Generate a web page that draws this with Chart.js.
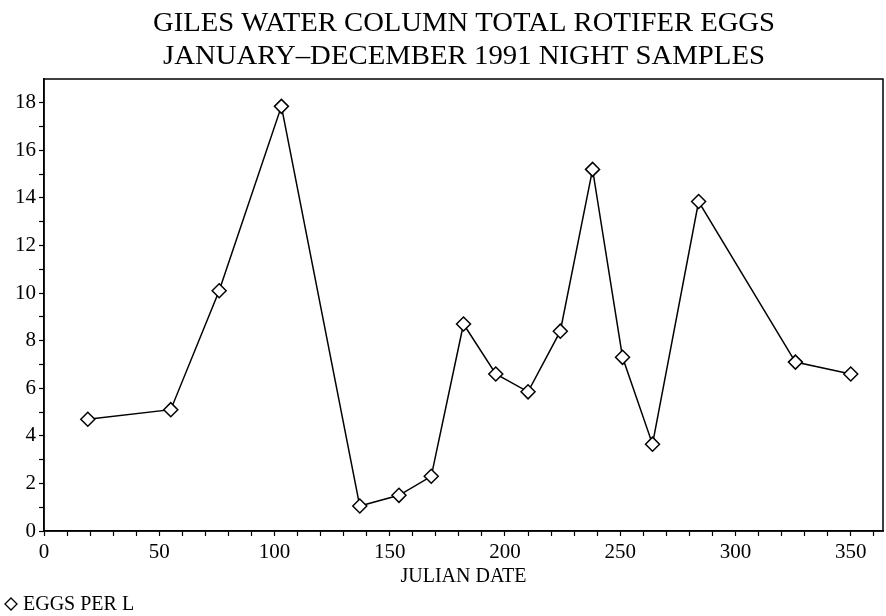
<!DOCTYPE html>
<html>
<head>
<meta charset="utf-8">
<script src="https://cdn.jsdelivr.net/npm/chart.js@4.4.1/dist/chart.umd.min.js"></script>
<style>
  html, body { margin: 0; padding: 0; background: #fff; }
  #wrap { width: 886px; height: 616px; position: relative; }
</style>
</head>
<body>
<div id="wrap"><canvas id="eggsChart"></canvas></div>
<script>
// Giles water column - total rotifer eggs, night samples 1991
const titleLines = ['GILES WATER COLUMN TOTAL ROTIFER EGGS', 'JANUARY\u2013DECEMBER 1991 NIGHT SAMPLES'];
const xTitle = 'JULIAN DATE';
const seriesLabel = 'EGGS PER L';

const julianDays = [19, 55, 76, 103, 137, 154, 168, 182, 196, 210, 224, 238, 251, 264, 284, 326, 350];
const eggsPerL   = [4.7, 5.1, 10.1, 17.85, 1.05, 1.5, 2.3, 8.7, 6.6, 5.85, 8.4, 15.2, 7.3, 3.65, 13.85, 7.1, 6.6];

const xTicks = [0, 10, 20, 30, 40, 50, 60, 70, 80, 90, 100, 110, 120, 130, 140, 150, 160, 170, 180, 190,
                200, 210, 220, 230, 240, 250, 260, 270, 280, 290, 300, 310, 320, 330, 340, 350, 360];
const xLabelled = [0, 50, 100, 150, 200, 250, 300, 350];
const yTicks = [0, 1, 2, 3, 4, 5, 6, 7, 8, 9, 10, 11, 12, 13, 14, 15, 16, 17, 18];
const yLabelled = [0, 2, 4, 6, 8, 10, 12, 14, 16, 18];

const FONT = '"Liberation Serif", "DejaVu Serif", serif';

// draws frame, condensed title and the legend line
const decorations = {
    id: 'decorations',
    afterDraw(chart) {
        const { ctx, chartArea } = chart;
        ctx.save();
        ctx.strokeStyle = '#000';
        ctx.lineWidth = 1.5;
        ctx.strokeRect(chartArea.left, chartArea.top, chartArea.right - chartArea.left, chartArea.bottom - chartArea.top);

        // title, squeezed horizontally like the plotter font
        ctx.fillStyle = '#000';
        ctx.font = '27px ' + FONT;
        ctx.textAlign = 'center';
        ctx.textBaseline = 'middle';
        const widths = [622, 602];
        const ys = [24, 57];
        titleLines.forEach((line, i) => {
            const w = ctx.measureText(line).width;
            ctx.save();
            ctx.translate(464, ys[i]);
            ctx.scale(widths[i] / w, 1);
            ctx.fillText(line, 0, 0);
            ctx.restore();
        });

        // legend
        const lx = 11, ly = 604, r = 6;
        ctx.beginPath();
        ctx.moveTo(lx, ly - r);
        ctx.lineTo(lx + r, ly);
        ctx.lineTo(lx, ly + r);
        ctx.lineTo(lx - r, ly);
        ctx.closePath();
        ctx.lineWidth = 1.3;
        ctx.stroke();
        ctx.font = '20px ' + FONT;
        ctx.textAlign = 'left';
        ctx.fillText(seriesLabel, 23, ly + 1);
        ctx.restore();
    }
};

const ctx = document.getElementById('eggsChart').getContext('2d');
new Chart(ctx, {
    type: 'line',
    data: {
        datasets: [{
            label: seriesLabel,
            data: julianDays.map((d, i) => ({ x: d, y: eggsPerL[i] })),
            borderColor: '#000',
            borderWidth: 1.5,
            backgroundColor: '#fff',
            pointStyle: 'rectRot',
            pointRadius: 7,
            pointBorderWidth: 1.5,
            pointBorderColor: '#000',
            pointBackgroundColor: '#fff',
            tension: 0
        }]
    },
    options: {
        responsive: true,
        maintainAspectRatio: false,
        animation: false,
        layout: { autoPadding: false, padding: { top: 79, right: 3, bottom: 0, left: 0 } },
        plugins: {
            legend: { display: false },
            title: { display: false },
            tooltip: { enabled: false }
        },
        scales: {
            x: {
                type: 'linear',
                min: 0,
                max: 364,
                afterBuildTicks: (scale) => { scale.ticks = xTicks.map(v => ({ value: v })); },
                afterFit: (scale) => {
                    scale.height = 85;
                    scale.paddingLeft = 0;
                    scale.paddingRight = 0;
                },
                border: { display: true, color: '#000', width: 1.5 },
                grid: { drawOnChartArea: false, drawTicks: true, tickLength: 5, color: '#000', tickWidth: 1.2 },
                ticks: {
                    autoSkip: false,
                    maxRotation: 0,
                    padding: 4,
                    color: '#000',
                    font: { family: FONT, size: 21 },
                    callback: (v) => xLabelled.includes(v) ? String(v) : ''
                },
                title: {
                    display: true,
                    text: xTitle,
                    color: '#000',
                    font: { family: FONT, size: 20 },
                    padding: { top: 0, bottom: 27 }
                }
            },
            y: {
                min: 0,
                max: 19,
                afterBuildTicks: (scale) => { scale.ticks = yTicks.map(v => ({ value: v })); },
                afterFit: (scale) => { scale.width = 44; },
                border: { display: true, color: '#000', width: 1.5 },
                grid: { drawOnChartArea: false, drawTicks: true, tickLength: 5, color: '#000', tickWidth: 1.2 },
                ticks: {
                    autoSkip: false,
                    padding: 3,
                    color: '#000',
                    font: { family: FONT, size: 21 },
                    callback: (v) => yLabelled.includes(v) ? String(v) : ''
                }
            }
        }
    },
    plugins: [decorations]
});
</script>
</body>
</html>
